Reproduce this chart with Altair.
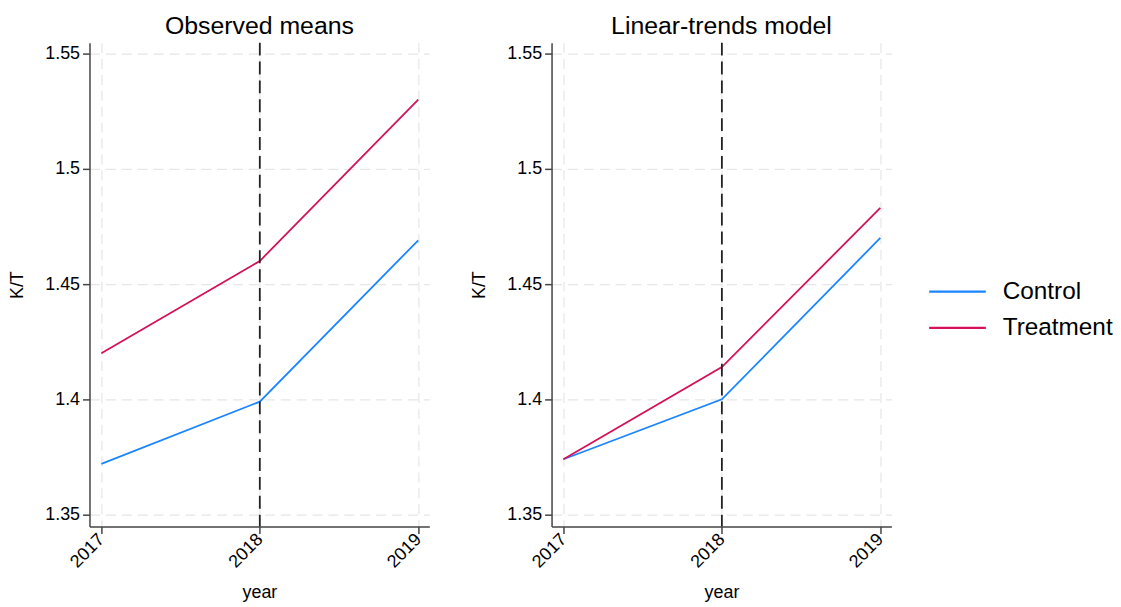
import altair as alt
import pandas as pd

years = [2017, 2018, 2019]
groups = ["Control", "Treatment"]
obs_control = [1.372, 1.399, 1.469]
obs_treatment = [1.420, 1.460, 1.530]
lt_control = [1.374, 1.400, 1.470]
lt_treatment = [1.374, 1.414, 1.483]
y_ticks = [1.35, 1.40, 1.45, 1.50, 1.55]
treatment_year = [2018]
colors = ["#1a85ff", "#d41159"]
titles = ["Observed means", "Linear-trends model"]

FONT = "Liberation Sans"
W, H = 342, 487


def frame(c, t):
    rows = []
    for g, vals in zip(groups, (c, t)):
        for yr, v in zip(years, vals):
            rows.append({"year": yr, "group": g, "kt": v})
    return pd.DataFrame(rows)


def panel(df, title):
    x = alt.X(
        "year:Q",
        scale=alt.Scale(domain=[2016.925, 2019.07], nice=False, zero=False),
        axis=alt.Axis(values=years, format="d", title="year", labelAngle=315,
                      labelAlign="right", labelBaseline="middle", titlePadding=13),
    )
    y = alt.Y(
        "kt:Q",
        scale=alt.Scale(domain=[1.3448, 1.5547], nice=False, zero=False),
        axis=alt.Axis(values=y_ticks, format=".2~f", title="K/T", titlePadding=18),
    )
    lines = alt.Chart(df).mark_line(strokeWidth=1.8).encode(
        x=x, y=y,
        color=alt.Color("group:N", scale=alt.Scale(domain=groups, range=colors),
                        legend=alt.Legend(title=None, orient="none", legendX=858, legendY=235,
                                          symbolType="M-2,0H2", symbolSize=812,
                                          symbolStrokeWidth=2.2, labelFontSize=24.5,
                                          labelFont=FONT, labelColor="black",
                                          labelOffset=30, rowPadding=9.5, padding=0)),
    )
    rule = alt.Chart(pd.DataFrame({"year": treatment_year})).mark_rule(
        color="#222", strokeWidth=1.8, strokeDash=[13, 6]
    ).encode(x=alt.X("year:Q"))
    return alt.layer(lines, rule).properties(
        width=W, height=H,
        title=alt.TitleParams(title, frame="group", anchor="middle", fontSize=25,
                              fontWeight="normal", font=FONT, color="black", offset=3),
    )


left = panel(frame(obs_control, obs_treatment), titles[0])
right = panel(frame(lt_control, lt_treatment), titles[1])

chart = alt.hconcat(left, right, spacing=41).properties(
    padding={"left": 0, "top": 4, "right": 0, "bottom": 0}
).configure_view(stroke=None).configure_axis(
    domainColor="#444", domainWidth=1.5, tickColor="#444", tickSize=7, tickWidth=1.5,
    labelColor="black", labelFont=FONT, labelFontSize=18, labelPadding=3,
    titleFont=FONT, titleFontSize=18, titleFontWeight="normal", titleColor="black",
    gridColor="#e6e6e6", gridDash=[10, 6], gridWidth=1.2,
)

chart.save("out.html", embed_options={"renderer": "svg", "actions": False})
